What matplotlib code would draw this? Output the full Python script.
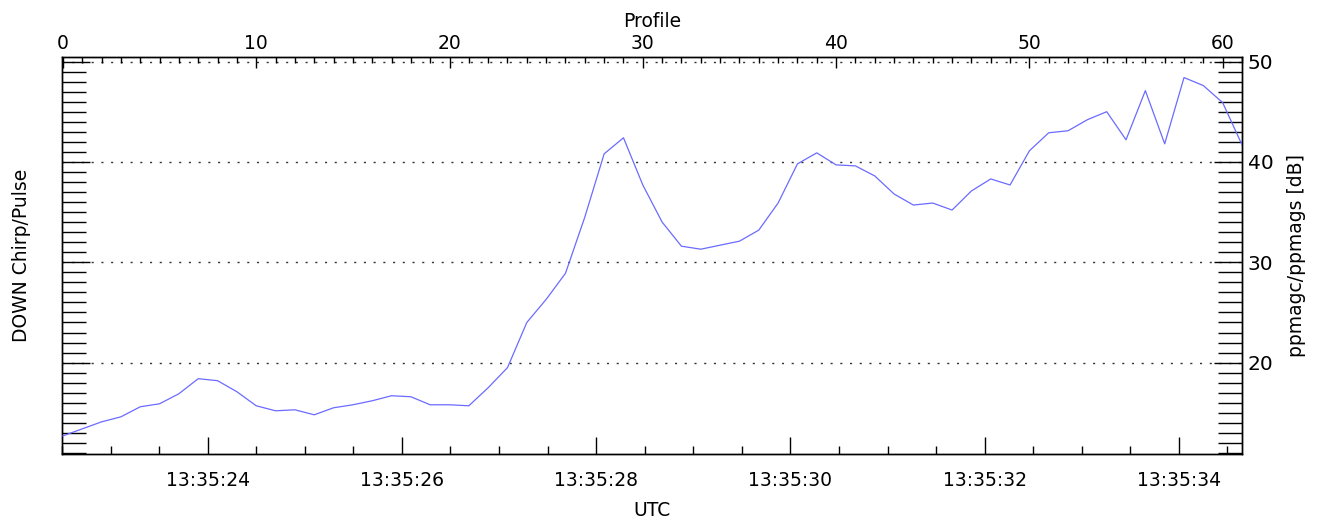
import numpy as np
import matplotlib.pyplot as plt
from matplotlib.ticker import MultipleLocator, FixedLocator

# ratio per profile, dB
ratio_db = [12.7, 13.4, 14.1, 14.6, 15.6, 15.9, 16.9, 18.4, 18.2, 17.1,
            15.7, 15.2, 15.3, 14.8, 15.5, 15.8, 16.2, 16.7, 16.6, 15.8,
            15.8, 15.7, 17.5, 19.5, 24.0, 26.3, 28.9, 34.5, 40.8, 42.4,
            37.7, 34.0, 31.6, 31.3, 31.7, 32.1, 33.2, 35.9, 39.8, 40.9,
            39.7, 39.6, 38.6, 36.8, 35.7, 35.9, 35.2, 37.1, 38.3, 37.7,
            41.1, 42.9, 43.1, 44.2, 45.0, 42.2, 47.1, 41.8, 48.4, 47.6,
            45.9, 41.7]
profile = np.arange(len(ratio_db))

# seconds after 13:35:00
time_ticks = [24, 26, 28, 30, 32, 34]
time_labels = ['13:35:24', '13:35:26', '13:35:28', '13:35:30', '13:35:32', '13:35:34']
grid_levels = [20, 30, 40, 50]

plt.rcParams['font.family'] = ['DejaVu Sans']
fs = 13.5

fig = plt.figure(figsize=(13.21, 5.20), dpi=100)
ax = fig.add_axes([0.0469, 0.127, 0.8933, 0.7634])
ax.set_xlim(22.5, 34.65)
ax.set_ylim(10.9, 50.45)

for lev in grid_levels:
    ax.axhline(lev, color='#333333', lw=1.0, ls=(0, (1.5, 5.5)), zorder=1)

ax.xaxis.set_major_locator(FixedLocator(time_ticks))
ax.set_xticklabels(time_labels, fontsize=fs)
ax.xaxis.set_minor_locator(MultipleLocator(0.5))
ax.tick_params(axis='x', which='major', direction='in', length=12, width=1, pad=12)
ax.tick_params(axis='x', which='minor', direction='in', length=6, width=1)
ax.set_xlabel('UTC', fontsize=fs, labelpad=8)

ax.yaxis.set_major_locator(MultipleLocator(10))
ax.yaxis.set_minor_locator(MultipleLocator(1))
ax.tick_params(axis='y', which='both', direction='in', left=True, right=True,
               labelleft=False, labelright=True, labelsize=fs + 1, pad=4)
ax.tick_params(axis='y', which='major', length=20, width=1)
ax.tick_params(axis='y', which='minor', length=17, width=1)
ax.set_ylabel('DOWN Chirp/Pulse', fontsize=fs, labelpad=22)
ax.text(1.046, 0.5, 'ppmagc/ppmags [dB]', transform=ax.transAxes, rotation=90,
        ha='center', va='center', fontsize=fs)

top = ax.twiny()
top.set_xlim(-0.05, 61.0)
top.plot(profile, ratio_db, color='#6b6bff', lw=0.9, zorder=3)
top.xaxis.set_major_locator(MultipleLocator(10))
top.xaxis.set_minor_locator(MultipleLocator(1))
top.tick_params(axis='x', which='major', direction='in', length=8, width=1,
                labelsize=fs, pad=3)
top.tick_params(axis='x', which='minor', direction='in', length=4, width=1)
top.set_xlabel('Profile', fontsize=fs, labelpad=5)

for a in (ax, top):
    for s in a.spines.values():
        s.set_linewidth(1.0)

fig.savefig('out.png', dpi=100)
